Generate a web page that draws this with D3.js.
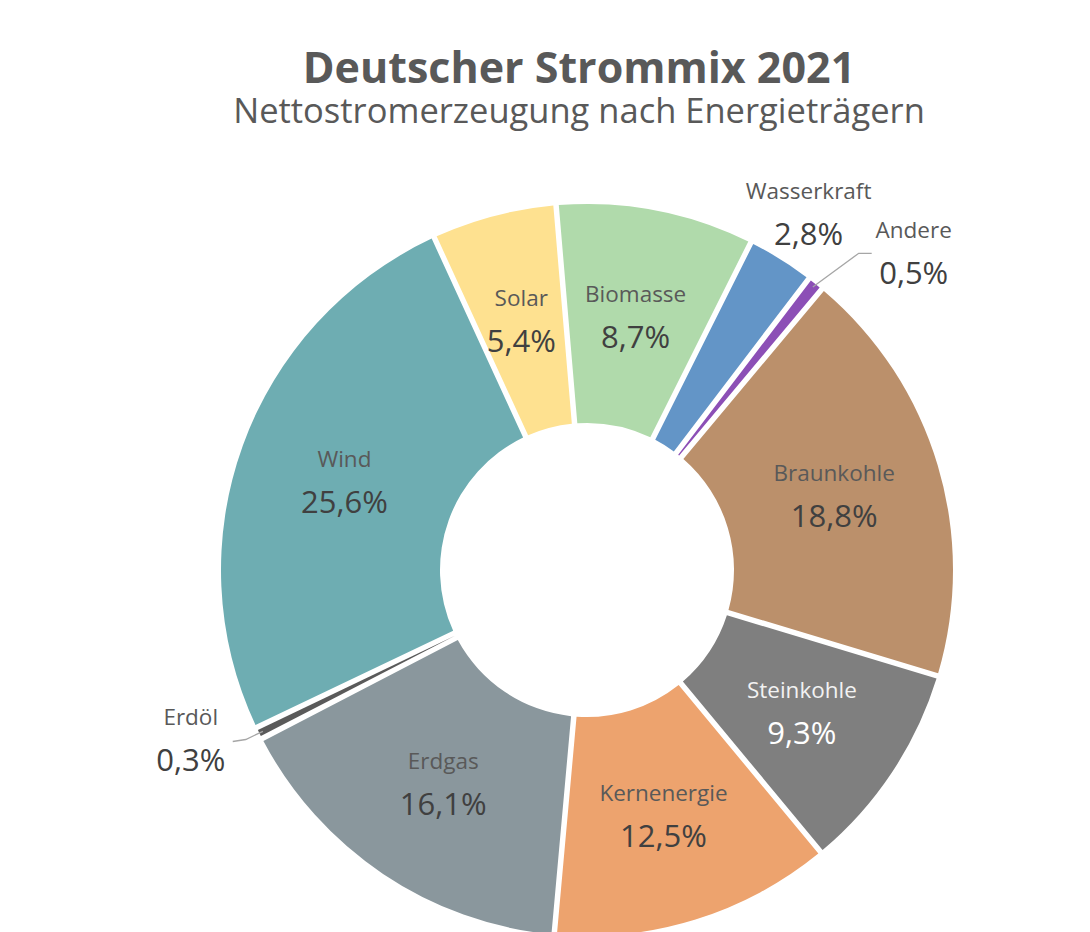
<!DOCTYPE html>
<html>
<head>
<meta charset="utf-8">
<script src="https://cdn.jsdelivr.net/npm/d3@7"></script>
<style>
  body { margin: 0; background: #fff; }
  svg { display: block; font-family: "Open Sans", "Noto Sans", sans-serif; }
</style>
</head>
<body>
<div id="chart"></div>
<script>
/* ---- data (Anteile in %, im Uhrzeigersinn ab Braunkohle) ---- */
const categories = ['Braunkohle', 'Steinkohle', 'Kernenergie', 'Erdgas', 'Erdöl', 'Wind', 'Solar', 'Biomasse', 'Wasserkraft', 'Andere'];
const shares     = [18.8, 9.3, 12.5, 16.1, 0.3, 25.6, 5.4, 8.7, 2.8, 0.5];
const colors     = ['#BB906B', '#7F7F7F', '#EDA36E', '#8A979D', '#5A5A5A', '#6EADB2', '#FEE190', '#B0DAAB', '#6395C7', '#8C4FB6'];
const lightText  = ['Steinkohle'];

/* ---- layout ---- */
const W = 1090, H = 932;
const cx = 587, cy = 570;
const rOuter = 366, rInner = 147, rLabel = 258;
const gap = 5.5;
const startDeg = 39.9;
// outside labels: radius + angular nudge (deg), leader line yes/no
const outsideLayout = {
  'Wasserkraft': { r: 419, shift: 0, leader: false },
  'Andere':      { r: 455, shift: 7.3, leader: true },
  'Erdöl':       { r: 431, shift: 3.3, leader: true }
};

const fmt = v => d3.format('.1f')(v).replace('.', ',') + '%';
const rad = d => d * Math.PI / 180;

const data = categories.map((c, i) => ({ name: c, value: shares[i], color: colors[i] }));

const svg = d3.select('#chart').append('svg').attr('width', W).attr('height', H);

/* title */
svg.append('text')
  .attr('x', 579).attr('y', 83).attr('text-anchor', 'middle')
  .style('font-size', '43px').style('font-weight', '700').style('fill', '#595959')
  .text('Deutscher Strommix 2021');
svg.append('text')
  .attr('x', 579).attr('y', 123).attr('text-anchor', 'middle')
  .style('font-size', '34.5px').style('fill', '#595959')
  .text('Nettostromerzeugung nach Energieträgern');

const g = svg.append('g').attr('transform', `translate(${cx},${cy})`);

const pie = d3.pie().sort(null).value(d => d.value)
  .startAngle(rad(startDeg)).endAngle(rad(startDeg) + 2 * Math.PI)
  .padAngle(gap / rOuter);
const arcs = pie(data);

const arc = d3.arc().innerRadius(rInner).outerRadius(rOuter).padRadius(rOuter);
const labelArc = d3.arc().innerRadius(rLabel).outerRadius(rLabel);

/* slices */
g.append('g').selectAll('path').data(arcs).join('path')
  .attr('d', arc)
  .attr('fill', d => d.data.color);

/* label anchors */
const anchor = d => {
  const o = outsideLayout[d.data.name];
  if (!o) return labelArc.centroid(d);
  const a = (d.startAngle + d.endAngle) / 2 + rad(o.shift);
  return [Math.sin(a) * o.r, -Math.cos(a) * o.r];
};

/* leader lines */
g.append('g').selectAll('polyline')
  .data(arcs.filter(d => outsideLayout[d.data.name] && outsideLayout[d.data.name].leader))
  .join('polyline')
  .attr('points', d => {
    const a = (d.startAngle + d.endAngle) / 2;
    const p0 = [Math.sin(a) * (rOuter - 4), -Math.cos(a) * (rOuter - 4)];
    const [ax, ay] = anchor(d);
    const side = ax > 0 ? -1 : 1;
    const p1 = [ax + side * 55, ay];
    const p2 = [ax + side * 42, ay + (side > 0 ? 2 : 0)];
    return [p0, p1, p2].map(p => p.join(',')).join(' ');
  })
  .attr('fill', 'none').attr('stroke', '#A6A6A6').attr('stroke-width', 1.3);

/* labels */
const lbl = g.append('g').selectAll('g').data(arcs).join('g')
  .attr('transform', d => `translate(${anchor(d)})`);

lbl.append('text')
  .attr('y', -15).attr('text-anchor', 'middle')
  .style('font-size', '22.5px')
  .style('fill', d => lightText.includes(d.data.name) ? '#F2F2F2' : '#595959')
  .text(d => d.data.name);

lbl.append('text')
  .attr('y', 31).attr('text-anchor', 'middle')
  .style('font-size', '31px')
  .style('fill', d => lightText.includes(d.data.name) ? '#FFFFFF' : '#404040')
  .text(d => fmt(d.data.value));
</script>
</body>
</html>
